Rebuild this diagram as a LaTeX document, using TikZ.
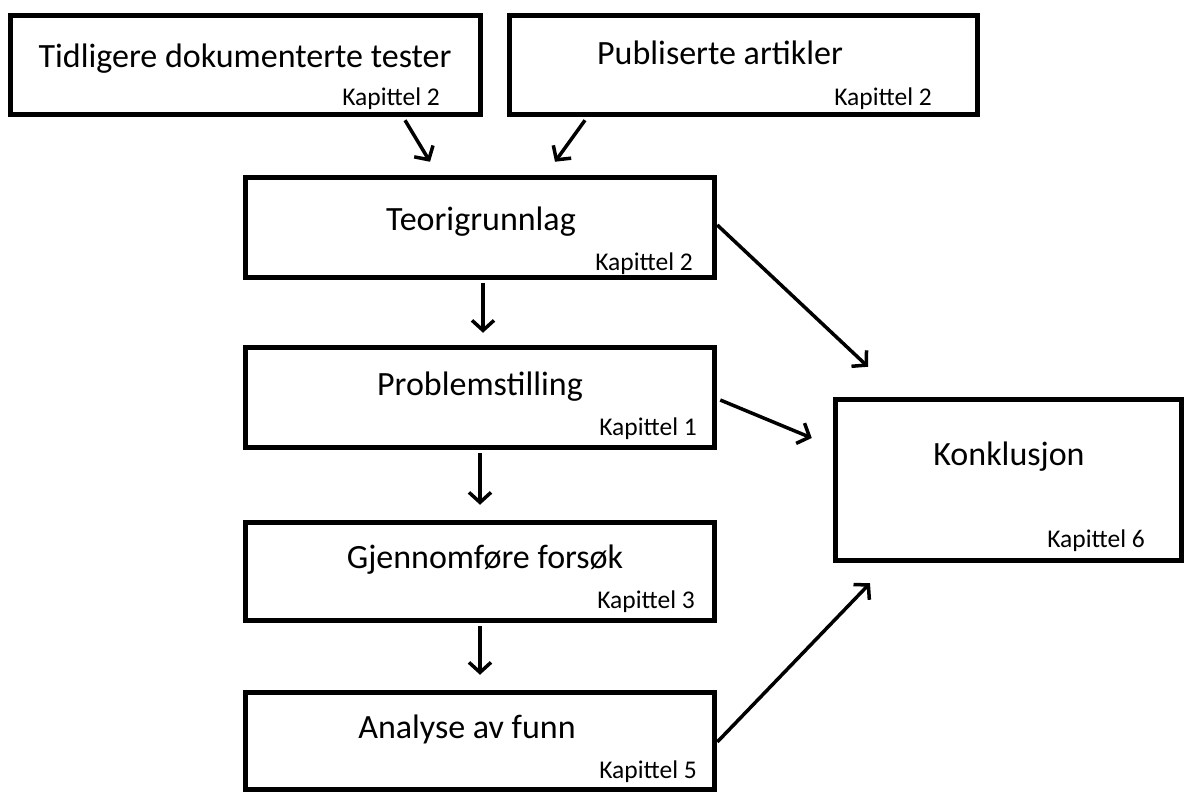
\documentclass[tikz,border=0pt]{standalone}
\usepackage{fontspec}
\setmainfont{Carlito}
\usetikzlibrary{arrows.meta}
\tikzset{
  box/.style={draw=black, line width=5.5pt, fill=white, rectangle, inner sep=0pt},
  title/.style={anchor=base, font=\fontsize{34}{40}\selectfont, inner sep=0pt},
  chap/.style={anchor=base east, font=\fontsize{25.5}{30}\selectfont, inner sep=0pt},
  flow/.style={line width=3.5pt, -{Straight Barb[length=10pt,width=22pt,line width=3.5pt]}}
}
\begin{document}
\begin{tikzpicture}[x=1pt,y=-1pt]
\useasboundingbox (0,0) rectangle (1184,792);

% boxes
\node[box, minimum width=470pt, minimum height=99pt] (src1) at (245.5,65) {};
\node[box, minimum width=468pt, minimum height=99pt] (src2) at (743.5,65) {};
\node[box, minimum width=469pt, minimum height=100pt] (theory) at (480,227.5) {};
\node[box, minimum width=469pt, minimum height=100pt] (problem) at (480,397.5) {};
\node[box, minimum width=469pt, minimum height=98pt] (exper) at (480,571.5) {};
\node[box, minimum width=469pt, minimum height=97pt] (analysis) at (480,741) {};
\node[box, minimum width=346pt, minimum height=161pt] (concl) at (1008.5,480) {};

% titles
\node[title] (t1) at (245,67) {Tidligere dokumenterte tester};
\node[title] (t2) at (720,65) {Publiserte artikler};
\node[title] (t3) at (481,230) {Teorigrunnlag};
\node[title] (t4) at (480,395) {Problemstilling};
\node[title] (t5) at (485,568) {Gjennomføre forsøk};
\node[title] (t6) at (467,738) {Analyse av funn};
\node[title] (t7) at (1009,465) {Konklusjon};

% chapter references
\node[chap] (k1) at (440,106) {Kapittel 2};
\node[chap] (k2) at (932,106) {Kapittel 2};
\node[chap] (k3) at (693,270) {Kapittel 2};
\node[chap] (k4) at (697,435) {Kapittel 1};
\node[chap] (k5) at (695,608) {Kapittel 3};
\node[chap] (k6) at (697,778) {Kapittel 5};
\node[chap] (k7) at (1145,547) {Kapittel 6};

% connectors
\draw[flow] ([xshift=159.5pt,yshift=-3pt]src1.south) -- ([xshift=-50pt,yshift=13pt]theory.north);
\draw[flow] ([xshift=-158.5pt,yshift=-3pt]src2.south) -- ([xshift=75pt,yshift=13pt]theory.north);
\draw[flow] ([xshift=3pt,yshift=-3pt]theory.south) -- ([xshift=3pt,yshift=12pt]problem.north);
\draw[flow] ([yshift=-3pt]problem.south) -- ([yshift=15pt]exper.north);
\draw[flow] ([yshift=-3pt]exper.south) -- ([yshift=15pt]analysis.north);
\draw[flow] ([yshift=2.5pt]theory.east) -- ([xshift=-140.5pt,yshift=30pt]concl.north);
\draw[flow] ([xshift=3pt,yshift=-2.5pt]problem.east) -- ([xshift=-21pt,yshift=42pt]concl.west);
\draw[flow] ([yshift=-1pt]analysis.east) -- ([xshift=-138.5pt,yshift=-20pt]concl.south);
\end{tikzpicture}
\end{document}
